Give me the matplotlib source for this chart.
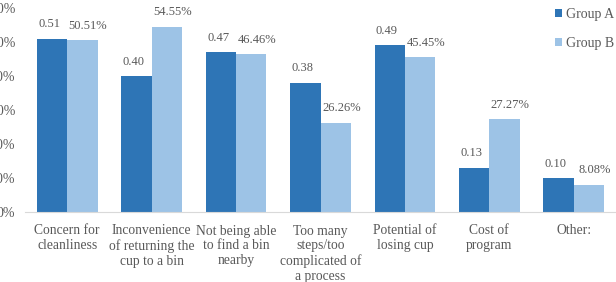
import matplotlib.pyplot as plt
import numpy as np

categories = ['Concern for\ncleanliness', 'Inconvenience\nof returning the\ncup to a bin',
              'Not being able\nto find a bin\nnearby', 'Too many\nsteps/too\ncomplicated of\na process',
              'Potential of\nlosing cup', 'Cost of\nprogram', 'Other:']
group_a = [0.51, 0.40, 0.47, 0.38, 0.49, 0.13, 0.10]
group_b = [50.51, 54.55, 46.46, 26.26, 45.45, 27.27, 8.08]  # percent
yticks = [0, 0.1, 0.2, 0.3, 0.4, 0.5, 0.6]

plt.rcParams['font.family'] = ['Liberation Serif', 'DejaVu Serif']
text_color = '#595959'

fig = plt.figure(figsize=(6.16, 2.82), dpi=100)
ax = fig.add_axes([25 / 616, 70 / 282, 591 / 616, 204 / 282])

x = np.arange(len(categories))
w = 0.36
b_frac = [v / 100 for v in group_b]
bars_a = ax.bar(x - w / 2, group_a, w, color='#2E75B6', label='Group A')
bars_b = ax.bar(x + w / 2, b_frac, w, color='#9DC3E6', label='Group B')

for rect, v in zip(bars_a, group_a):
    ax.annotate(f'{v:.2f}', (rect.get_x() + rect.get_width() / 2, rect.get_height()),
                xytext=(-2, 6), textcoords='offset points', ha='center', va='bottom',
                fontsize=9, color=text_color)
for rect, v in zip(bars_b, group_b):
    ax.annotate(f'{v:.2f}%', (rect.get_x() + rect.get_width() / 2, rect.get_height()),
                xytext=(4, 6), textcoords='offset points', ha='center', va='bottom',
                fontsize=9, color=text_color)

ax.set_xlim(-0.5, len(categories) - 0.5)
ax.set_ylim(0, 0.6)
ax.set_yticks(yticks)
ax.set_yticklabels([f'{int(round(t * 100))}%' for t in yticks], fontsize=10, color=text_color)
ax.set_xticks(x)
ax.set_xticklabels(categories, fontsize=9.8, color=text_color, linespacing=1.18)
ax.tick_params(axis='both', length=0)
ax.tick_params(axis='y', pad=7)
ax.tick_params(axis='x', pad=9)
for s in ['top', 'right', 'left']:
    ax.spines[s].set_visible(False)
ax.spines['bottom'].set_color('#D9D9D9')

fig.legend(loc='upper left', bbox_to_anchor=(547 / 616, 1.0), frameon=False,
           fontsize=10, handlelength=0.5, handleheight=0.5, handletextpad=0.25,
           labelspacing=1.1, labelcolor=text_color, borderaxespad=0.2)

fig.savefig('out.png', dpi=100)
